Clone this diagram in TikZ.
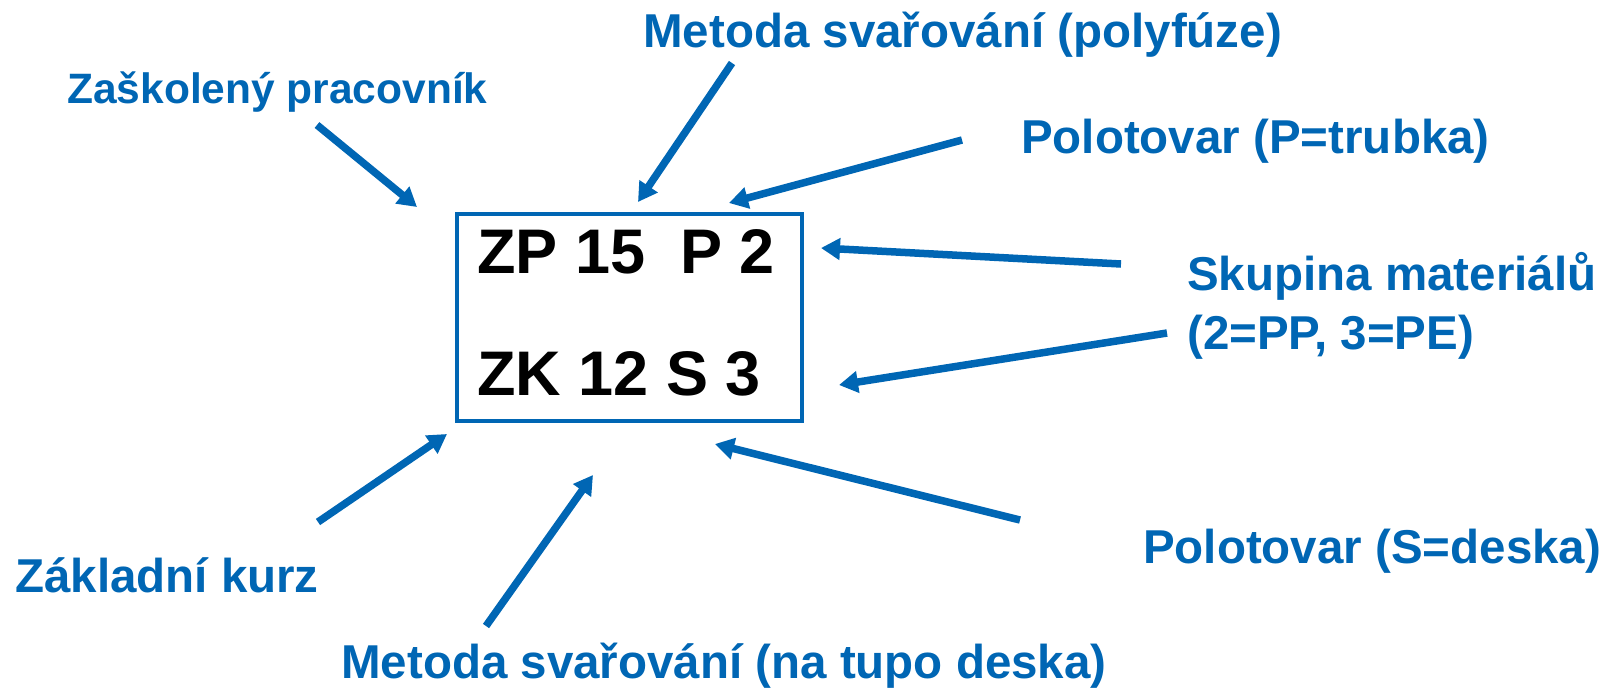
\documentclass[tikz,border=0pt]{standalone}
\usepackage{fontspec}
\setmainfont{Liberation Sans}
\usetikzlibrary{arrows.meta,positioning}
\definecolor{slideblue}{RGB}{0,102,180}

\tikzset{
  popis/.style={text=slideblue,font=\bfseries\fontsize{47.5}{57}\selectfont,inner sep=0pt,anchor=base west},
  kod/.style={font=\bfseries\fontsize{63}{76}\selectfont,inner sep=0pt,anchor=base west},
  sipka/.style={draw=slideblue,line width=7.5pt,-{Triangle[length=19pt,width=21pt]}},
}

\begin{document}
\begin{tikzpicture}[x=1pt,y=-1pt]
        \useasboundingbox (0,0) rectangle (1605,691);

        % stitek s oznacenim
        \node[draw=slideblue,line width=3.5pt,minimum width=345pt,minimum height=207pt,inner sep=0pt] (stitek) at (629.5,317.5) {};
        \node[kod] (radek1) at (477,273) {ZP 15\ \ P 2};
        \node[kod] (radek2) at (477,395) {ZK 12 S 3};

        % popisky
        \node[popis,font=\bfseries\fontsize{42.5}{51}\selectfont] (pracovnik) at (67,103) {Zaškolený pracovník};
        \node[popis] (polyfuze) at (643,47) {Metoda svařování (polyfúze)};
        \node[popis] (trubka) at (1021,153) {Polotovar (P=trubka)};
        \node[popis] (skupina) at (1187,290) {Skupina materiálů};
        \node[popis] (skupina2) at (1187,349) {(2=PP, 3=PE)};
        \node[popis] (deska) at (1143,563) {Polotovar (S=deska)};
        \node[popis] (kurz) at (15,592) {Základní kurz};
        \node[popis] (tupo) at (341,678) {Metoda svařování (na tupo deska)};

        % konce sipek
        \coordinate (a1) at (317,125);  \coordinate (b1) at (417,207);
        \coordinate (a2) at (732,63);   \coordinate (b2) at (638,202);
        \coordinate (a3) at (962,140);  \coordinate (b3) at (729,203);
        \coordinate (a4) at (1121,264); \coordinate (b4) at (821,248);
        \coordinate (a5) at (1167,333); \coordinate (b5) at (839,385);
        \coordinate (a6) at (1020,520); \coordinate (b6) at (715,444);
        \coordinate (a7) at (318,522);  \coordinate (b7) at (447,434);
        \coordinate (a8) at (486,626);  \coordinate (b8) at (593,475);

        \foreach \i in {1,...,8}
          \draw[sipka] (a\i) -- (b\i);
\end{tikzpicture}
\end{document}
